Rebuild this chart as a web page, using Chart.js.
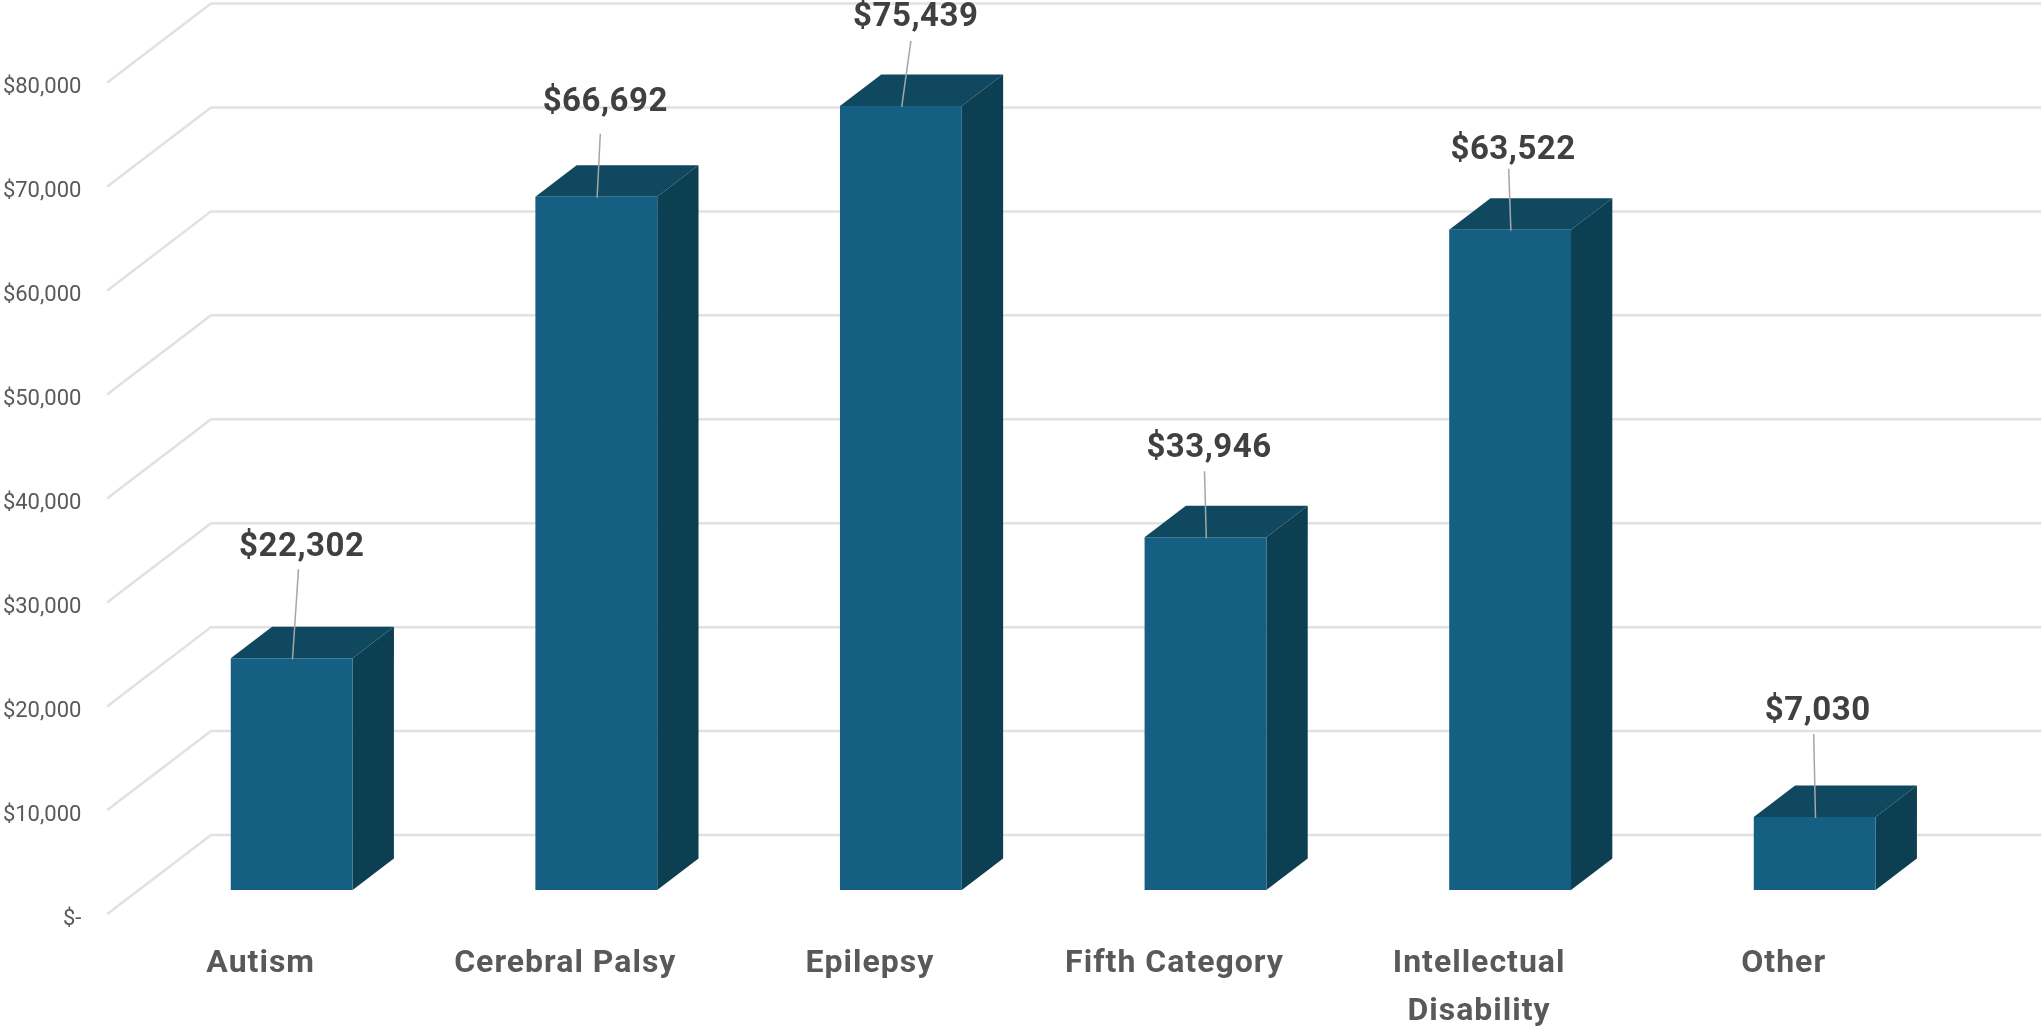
<!DOCTYPE html>
<html><head><meta charset="utf-8">
<style>html,body{margin:0;padding:0;background:#fff;overflow:hidden}canvas{display:block}</style>
<script src="https://cdn.jsdelivr.net/npm/chart.js@4/dist/chart.umd.min.js"></script>
</head><body><canvas id="c" width="2041" height="1028"></canvas>
<script>
const categories = ["Autism", "Cerebral Palsy", "Epilepsy", "Fifth Category", ["Intellectual", "Disability"], "Other"];
const values = [22302, 66692, 75439, 33946, 63522, 7030];
const axisMin = 0, axisMax = 80000, axisStep = 10000;

// Layout of the 3D look and hand-placed callouts (pixels)
const depthX = 41.3, depthY = -31.5;
const wallX = 211, wallDY = -55, floorX = 107, floorDY = 24.3;
const labelDX = [10, 9, 14.8, 3.5, 3, 3];
const labelDY = [-110.5, -94.5, -88, -88.5, -79.5, -105.5];
const leaderDX = [6.8, 4, 10, -1, -1.4, -1];
const leaderDY = [-89, -63, -65, -66, -61, -83];

const fmt = v => v === 0 ? "$-" : "$" + v.toLocaleString("en-US");

const look3d = {
  id: "look3d",
  beforeDraw(chart) {
    const s = chart.scales.x;
    if (!s._spaced) {
      const orig = s.drawLabels;
      s.drawLabels = function (a) {
        const c = this.ctx;
        c.save(); c.letterSpacing = "1px";
        orig.call(this, a);
        c.restore();
      };
      s._spaced = true;
    }
  },
  beforeDatasetsDraw(chart) {
    const {ctx, scales: {y}} = chart;
    ctx.save();
    ctx.strokeStyle = "#e1e1e1";
    ctx.lineWidth = 2.5;
    y.ticks.forEach(t => {
      const p = y.getPixelForValue(t.value);
      ctx.beginPath();
      ctx.moveTo(floorX, p + floorDY);
      ctx.lineTo(wallX, p + wallDY);
      ctx.lineTo(chart.width, p + wallDY);
      ctx.stroke();
    });
    chart.getDatasetMeta(0).data.forEach(b => {
      const l = b.x - b.width / 2, r = b.x + b.width / 2, t = b.y, bt = b.base;
      ctx.fillStyle = "#104860";
      ctx.beginPath();
      ctx.moveTo(l, t); ctx.lineTo(l + depthX, t + depthY);
      ctx.lineTo(r + depthX, t + depthY); ctx.lineTo(r, t);
      ctx.closePath(); ctx.fill();
      ctx.fillStyle = "#0d3f52";
      ctx.beginPath();
      ctx.moveTo(r, t); ctx.lineTo(r + depthX, t + depthY);
      ctx.lineTo(r + depthX, bt + depthY); ctx.lineTo(r, bt);
      ctx.closePath(); ctx.fill();
    });
    ctx.restore();
  },
  afterDatasetsDraw(chart) {
    const {ctx} = chart;
    ctx.save();
    chart.getDatasetMeta(0).data.forEach((b, i) => {
      ctx.strokeStyle = "#a6a6a6";
      ctx.lineWidth = 1.5;
      ctx.beginPath();
      ctx.moveTo(b.x + 0.8, b.y + 1);
      ctx.lineTo(b.x + leaderDX[i], b.y + leaderDY[i]);
      ctx.stroke();
      ctx.fillStyle = "#404040";
      ctx.font = "bold 33px Roboto";
      ctx.letterSpacing = "0.5px";
      ctx.textAlign = "center";
      ctx.textBaseline = "middle";
      ctx.fillText(fmt(values[i]), b.x + labelDX[i], b.y + labelDY[i]);
    });
    ctx.restore();
  }
};

new Chart(document.getElementById("c"), {
  type: "bar",
  data: {labels: categories, datasets: [{data: values, backgroundColor: "#156082", borderWidth: 0,
    barPercentage: 0.4, categoryPercentage: 1}]},
  plugins: [look3d],
  options: {
    responsive: false, animation: false,
    layout: {padding: {top: 58.5, right: 74, left: 0, bottom: 0}},
    plugins: {legend: {display: false}, tooltip: {enabled: false}},
    scales: {
      x: {
        grid: {display: false, drawTicks: false}, border: {display: false},
        afterFit(s) { s.height = 138; s.paddingLeft = 0; s.paddingRight = 0; },
        ticks: {color: "#595959", font: {family: "Roboto", size: 32, weight: "bold", lineHeight: 1.5},
          padding: 50, labelOffset: -31, maxRotation: 0, autoSkip: false}
      },
      y: {
        min: axisMin, max: axisMax,
        grid: {display: false, drawTicks: false}, border: {display: false},
        afterFit(s) { s.width = 139.4; s.paddingTop = 0; s.paddingBottom = 0; },
        ticks: {stepSize: axisStep, callback: v => fmt(v), color: "#595959",
          font: {family: "Roboto", size: 22}, padding: 58, labelOffset: 29}
      }
    }
  }
});
</script></body></html>
